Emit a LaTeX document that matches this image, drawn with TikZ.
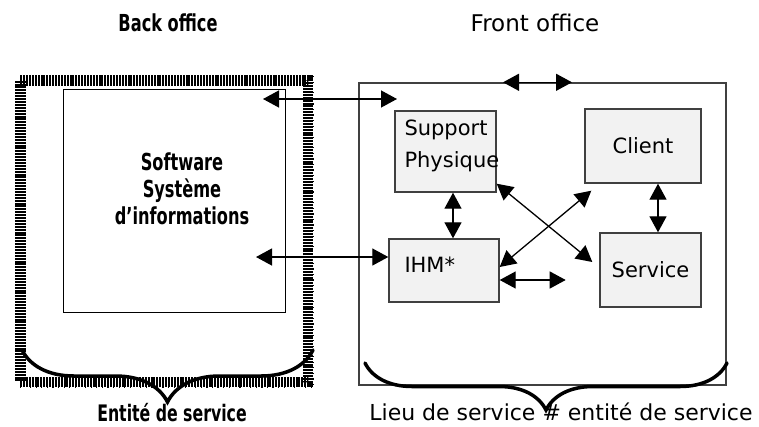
\documentclass[tikz,border=0pt]{standalone}
\usepackage{fontspec}
\usepackage{graphicx}
\usepackage{tikz}
\usetikzlibrary{calc}
\usetikzlibrary{positioning}
\usetikzlibrary{arrows.meta}
\usetikzlibrary{decorations.pathreplacing}
\setmainfont{DejaVu Sans}
\newfontfamily\impactfont{DejaVu Sans Condensed}
\newcommand{\tallbox}[1]{\scalebox{1}[1.3]{#1}}

\begin{document}
\begin{tikzpicture}[x=1pt, y=-1pt]

                \useasboundingbox (0,0) rectangle (759,426);

                \tikzset{
                    comic/.style={font=\fontsize{21pt}{32pt}\selectfont, inner sep=0pt},
                    impact/.style={font=\impactfont\bfseries\fontsize{18pt}{21pt}\selectfont, inner sep=0pt},
                    elem/.style={draw=black!75, line width=1.4pt, fill=black!5, inner sep=0pt},
                    link/.style={<->, line width=1.3pt, >={Triangle[length=16pt, width=17pt]}},
                    accolade/.style={line width=3.5pt, line cap=round, decorate,
                        decoration={brace, mirror, amplitude=#1}}
                }

                % Back office: the service entity and its software
                \begin{scope}
                    \node (backbox) [draw, line width=11pt,
                    dash pattern=on 2pt off 0.9pt, inner sep=0pt,
                    minimum width=288pt, minimum height=302pt] at (164, 231) {};
                    \draw [white, line width=0.7pt, dash pattern=on 4pt off 1.5pt]
                    (backbox.north west) rectangle (backbox.south east);
                    \node (soft) [draw, line width=1pt, inner sep=0pt,
                    minimum width=222pt, minimum height=223pt] at (174, 200.5) {};
                    \node (softtxt) [impact] at (182, 192)
                    {\tallbox{\begin{tabular}{@{}c@{}}Software\\Système\\d’informations\end{tabular}}};
                \end{scope}

                % Front office: the service place
                \begin{scope}
                    \node (front) [draw=black!75, line width=1.4pt, inner sep=0pt,
                    minimum width=367pt, minimum height=302pt] at (542.5, 234) {};
                    \node (support) [elem, minimum width=101pt, minimum height=81pt]
                    at (445.5, 151.5) {};
                    \node (supporttxt) [comic, align=left, anchor=west]
                    at ([xshift=10pt, yshift=6pt]support.west) {Support\\Physique};
                    \node (client) [elem, comic, minimum width=116pt, minimum height=74pt]
                    at (643, 146) {Client};
                    \node (ihm) [elem, minimum width=110pt, minimum height=63pt]
                    at (444, 270.5) {};
                    \node (ihmtxt) [comic, anchor=west]
                    at ([xshift=16pt, yshift=6pt]ihm.west) {IHM*};
                    \node (service) [elem, comic, minimum width=101pt, minimum height=74pt]
                    at (650.5, 270) {Service};
                \end{scope}

                % Titles and captions
                \node (backlbl) [impact] at (168, 23) {\tallbox{Back office}};
                \node (frontlbl) [comic, font=\fontsize{23pt}{26pt}\selectfont]
                at (535, 23) {Front office};
                \node (entite) [impact, font=\impactfont\bfseries\fontsize{17.5pt}{20pt}\selectfont]
                at (172, 413) {\tallbox{Entité de service}};
                \node (lieu) [comic, font=\fontsize{22pt}{26pt}\selectfont]
                at (561, 412) {Lieu de service \# entité de service};

                \coordinate (softtop) at (263, 99);
                \coordinate (fronttop) at (397, 99);
                \coordinate (softmid) at (256, 257);

                \begin{scope}[link]
                    \draw (softtop) -- (fronttop);
                    \draw (softmid) -- ([yshift=13.5pt]ihm.west);
                    \draw ([xshift=-39.5pt]front.north) -- ([xshift=29.5pt]front.north);
                    \draw ([xshift=7.5pt]support.south)
                    -- ([xshift=7.5pt]support.south |- ihm.north);
                    \draw ([xshift=15pt]client.south)
                    -- ([xshift=15pt]client.south |- service.north);
                    \draw ([yshift=9pt]support.south east)
                    -- ([xshift=-7pt, yshift=8pt]service.west);
                    \draw ([yshift=3.5pt]ihm.east)
                    -- ([xshift=7pt, yshift=-7pt]client.south west);
                    \draw ([yshift=-9.5pt]ihm.east) -- ++(66, 0);
                \end{scope}

                % Braces under both offices
                \draw [accolade=52pt] (22, 350) -- (313, 350);
                \draw [accolade=47pt] (365, 363) -- (727, 363);

\end{tikzpicture}
\end{document}
